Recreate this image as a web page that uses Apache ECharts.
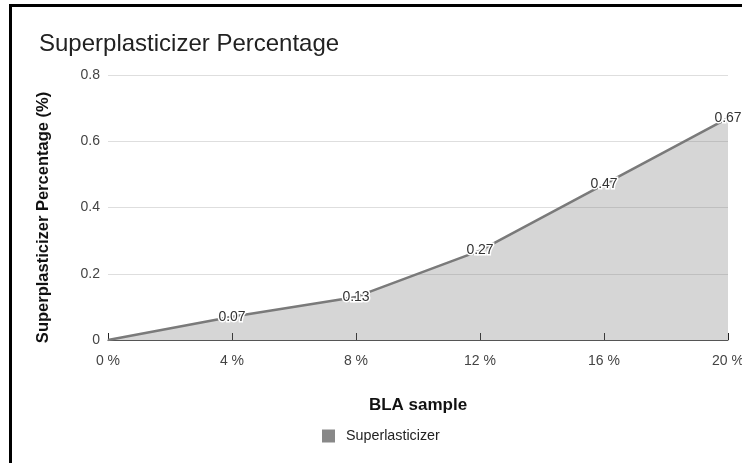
<!DOCTYPE html>
<html>
<head>
<meta charset="utf-8">
<script src="https://cdn.jsdelivr.net/npm/echarts@6/dist/echarts.min.js"></script>
<style>
  html, body { margin: 0; padding: 0; background: #fff; }
  #chart { width: 742px; height: 463px; }
</style>
</head>
<body>
<div id="chart"></div>
<script>
// BLA sample dosage (x) vs superplasticizer percentage (y)
const categories = ['0 %', '4 %', '8 %', '12 %', '16 %', '20 %'];
const superplasticizer = [0, 0.07, 0.13, 0.27, 0.47, 0.67];
const yTicks = { min: 0, max: 0.8, interval: 0.2 };

const FONT = '"Liberation Sans", Arial, sans-serif';

const chart = echarts.init(document.getElementById('chart'), null, { renderer: 'canvas' });

chart.setOption({
  backgroundColor: '#ffffff',
  animation: false,
  textStyle: { fontFamily: FONT },
  title: {
    text: 'Superplasticizer Percentage',
    left: 34,
    top: 27,
    textStyle: { fontFamily: FONT, fontSize: 24, fontWeight: 'normal', color: '#222' }
  },
  graphic: [{
    type: 'rect',
    silent: true,
    z: 100,
    shape: { x: 10.5, y: 5.5, width: 900, height: 600 },
    style: { fill: 'none', stroke: '#000', lineWidth: 3 }
  }],
  legend: {
    left: 317,
    top: 424,
    icon: 'rect',
    itemWidth: 13,
    itemHeight: 13,
    itemGap: 10,
    textStyle: { fontFamily: FONT, fontSize: 14.3, color: '#222', padding: [0, 0, 0, 6] },
    data: ['Superlasticizer']
  },
  grid: { left: 108, right: 14, top: 75, bottom: 123, containLabel: false, outerBoundsMode: 'none' },
  xAxis: {
    type: 'category',
    data: categories,
    boundaryGap: false,
    name: 'BLA sample',
    nameLocation: 'middle',
    nameGap: 57,
    nameTextStyle: { fontFamily: FONT, fontSize: 17, fontWeight: 'bold', color: '#111' },
    axisLine: { lineStyle: { color: '#555', width: 1 } },
    axisTick: { show: true, inside: true, length: 7, lineStyle: { color: '#222' } },
    axisLabel: { fontFamily: FONT, fontSize: 14, color: '#444', margin: 14 },
    splitLine: { show: false }
  },
  yAxis: {
    type: 'value',
    min: yTicks.min,
    max: yTicks.max,
    interval: yTicks.interval,
    name: 'Superplasticizer Percentage (%)',
    nameLocation: 'middle',
    nameGap: 56,
    nameTextStyle: { fontFamily: FONT, fontSize: 16.5, fontWeight: 'bold', color: '#111', padding: [0, 20, 0, 0] },
    axisLine: { show: false },
    axisTick: { show: false },
    axisLabel: { fontFamily: FONT, fontSize: 14, color: '#444', margin: 8 },
    splitLine: { lineStyle: { color: '#dedede', width: 1 } }
  },
  series: [{
    name: 'Superlasticizer',
    type: 'line',
    data: superplasticizer,
    showSymbol: true,
    symbol: 'circle',
    symbolSize: 1,
    itemStyle: { color: '#888' },
    lineStyle: { color: '#7a7a7a', width: 2.5 },
    areaStyle: { color: '#777', opacity: 0.3 },
    label: {
      show: true,
      position: 'inside',
      fontFamily: FONT,
      fontSize: 14,
      color: '#333',
      textBorderColor: '#fff',
      textBorderWidth: 3,
      // the origin point sits on the axis and carries no annotation
      formatter: p => (p.dataIndex === 0 ? '' : String(p.value))
    },
    z: 3
  }]
});
</script>
</body>
</html>
